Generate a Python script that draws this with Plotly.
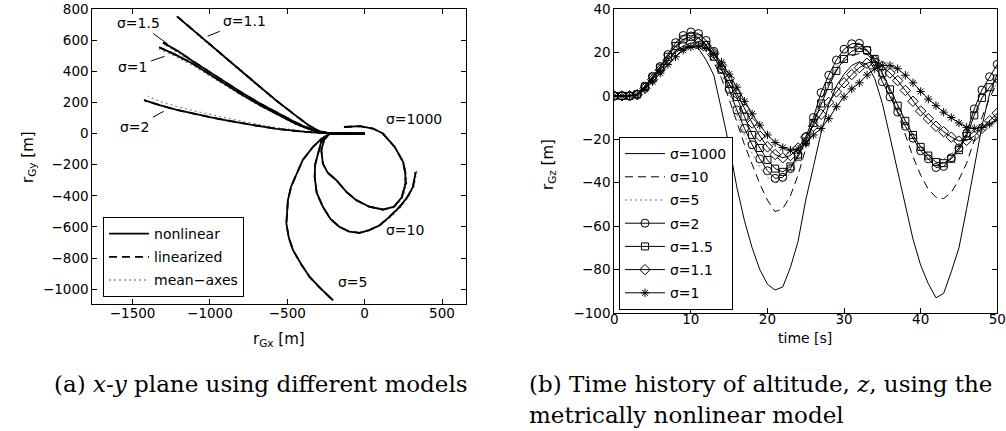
import plotly.graph_objects as go

# ---------------- Left panel: x-y trajectories [m] ----------------
# nonlinear model
s1000_x = [0, -120, -226, -262, -280, -270, -240, -183, -118, -54, 30, 118, 190, 240, 265, 262, 248, 194, 118, 54, -32, -134]
s1000_y = [0, 0, 0, -40, -107, -193, -250, -300, -375, -428, -470, -488, -470, -410, -320, -250, -182, -86, 0, 32, 47, 42]
s10_x = [0, -120, -226, -280, -302, -320, -323, -310, -270, -220, -162, -100, -32, 30, 97, 160, 226, 275, 312, 330]
s10_y = [0, 0, 0, -50, -128, -200, -279, -380, -471, -550, -600, -630, -638, -620, -589, -535, -471, -410, -343, -247]
s5_x = [0, -120, -226, -280, -334, -400, -441, -475, -496, -506, -490, -463, -410, -356, -280, -205]
s5_y = [0, 0, 0, -35, -86, -170, -257, -340, -428, -578, -670, -749, -840, -921, -1000, -1071]
s2_x = [0, -120, -226, -291, -380, -463, -570, -679, -790, -894, -1000, -1110, -1220, -1325, -1426]
s2_y = [0, 0, 0, 4, 10, 17, 30, 47, 65, 85, 105, 128, 153, 182, 214]
s15_x = [0, -120, -226, -300, -400, -463, -560, -679, -790, -894, -1000, -1110, -1200, -1303]
s15_y = [0, 0, 1, 12, 50, 80, 130, 195, 260, 325, 395, 465, 525, 584]
s11_x = [0, -120, -226, -291, -360, -420, -500, -571, -680, -787, -900, -1002, -1110, -1213]
s11_y = [0, 0, 2, 14, 52, 96, 158, 212, 303, 394, 488, 578, 667, 753]
s1_x = [0, -120, -226, -300, -400, -463, -560, -679, -790, -894, -1000, -1110, -1220, -1328]
s1_y = [0, 0, 1, 9, 44, 72, 121, 184, 248, 312, 378, 448, 505, 554]

# mean-axes model
m1000_x = [0, -120, -226, -262, -280, -270, -240, -183, -118, -54, 30, 120, 194, 246, 272, 268, 252, 196, 118, 54, -32, -134]
m1000_y = [0, 0, 0, -40, -107, -193, -250, -300, -375, -428, -472, -492, -474, -412, -320, -248, -180, -84, 2, 33, 48, 43]
m10_x = [0, -120, -226, -280, -302, -320, -323, -310, -270, -220, -162, -100, -32, 32, 100, 165, 232, 282, 320, 338]
m10_y = [0, 0, 0, -50, -128, -200, -279, -380, -471, -550, -600, -630, -638, -622, -592, -540, -474, -410, -340, -232]
m5_x = [0, -120, -226, -280, -334, -400, -441, -475, -496, -506, -490, -462, -406, -350, -275, -192]
m5_y = [0, 0, 0, -35, -86, -170, -257, -340, -428, -578, -672, -752, -844, -925, -1005, -1080]
m2_x = [0, -120, -226, -291, -380, -463, -570, -679, -790, -894, -1000, -1110, -1220, -1325, -1400]
m2_y = [0, 0, 0, 6, 14, 23, 38, 57, 78, 100, 122, 147, 175, 207, 240]
m15_x = [0, -120, -226, -300, -400, -463, -560, -679, -790, -894, -1000, -1110, -1200, -1300]
m15_y = [0, 0, 1, 11, 48, 77, 126, 190, 254, 318, 387, 456, 515, 576]
m11_x = [0, -120, -226, -291, -360, -420, -500, -571, -680, -787, -900, -1002, -1110, -1205]
m11_y = [0, 0, 2, 13, 50, 93, 154, 207, 297, 387, 480, 570, 660, 745]
m1_x = [0, -120, -226, -300, -400, -463, -560, -679, -790, -894, -1000, -1110, -1220, -1330]
m1_y = [0, 0, 1, 8, 41, 68, 116, 178, 240, 303, 368, 437, 494, 544]

# ---------------- Right panel: altitude vs time ----------------
t = list(range(0, 51))
z1000 = [0, 0, 0, 0.5, 3.5, 8, 12.5, 16.5, 20, 22, 22.5,
         21.8, 16.5, 9.5, -6.5, -23, -42, -57.5, -70, -80, -86.8,
         -89.4, -88, -79, -67, -48, -32.6, -17, -4, 4.5, 10,
         14, 15.7, 14.5, 8, -3.5, -19, -35, -51, -66, -78,
         -86.5, -93, -91, -81, -70, -52, -33, -14, 1, 10]
z10 = [0, 0, 0, 0.6, 4, 8.5, 13, 17.5, 21, 22.5, 23,
       22.5, 20, 15.5, 8, -1.5, -12, -22.5, -31.5, -40.5, -48,
       -53.3, -52, -46, -36.5, -24, -12, -2, 6, 12, 16,
       18.5, 19.5, 19.1, 16, 10.1, 1.8, -7.8, -18.1, -28, -36.5,
       -43, -46.7, -47.3, -44.5, -38.5, -31, -20, -10, -1, 6]
z5 = [0, 0, 0, 0.7, 4.2, 8.8, 13.3, 18.5, 23, 25.5, 26.3,
      25.8, 22.5, 17.5, 10.5, 1.5, -8.5, -18, -26.5, -33, -37.5,
      -40, -39.5, -35.5, -28.5, -20, -10.5, -1.5, 6.5, 13, 17.5,
      20.5, 21.5, 20.5, 16, 9.5, 2.5, -5, -12, -18.5, -23.5,
      -27, -29, -29, -27, -22.5, -15.5, -7.5, -1, 3, 5]
z2 = [0, 0, 0, 0.8, 4.5, 9, 13.5, 19, 24.5, 27.8, 29.4,
      28.7, 25.5, 20.5, 12.5, 3, -6.5, -15, -22.5, -29, -34.5,
      -38, -37.5, -33.5, -27, -19, -10, 1.5, 9.5, 16.5, 21.5,
      24, 24.2, 21, 15.5, 6.5, -0.5, -7.5, -14, -19.5, -25.3,
      -29, -33, -32.5, -28.5, -24, -17.3, -6, 2.7, 8.8, 14.5]
z15 = [0, 0, 0, 0.7, 4, 8.5, 13, 18, 23, 26, 27.2,
       26.5, 23.5, 18, 12, 5.5, -0.5, -9.5, -18, -24, -29.5,
       -33.5, -35, -32.5, -28, -21, -12.5, -3.5, 4.5, 11.5, 17,
       20.5, 22, 21, 17, 10.5, 3, -4.5, -11.5, -18, -23.5,
       -27.5, -30.5, -31, -29, -25, -18.5, -9, -1, 4, 8]
z11 = [0, 0, 0, 0.5, 3.5, 7.5, 12, 16.5, 20.5, 23, 24.3,
       24.5, 23, 19.5, 14, 8, 1, -6, -12.5, -18.5, -23.5,
       -27, -28.5, -27.5, -24, -19, -14, -8.5, -3, 1.8, 6,
       9.8, 13, 15, 16.3, 13.7, 10.5, 7, 2.5, -2.5, -7,
       -10.5, -14, -16.5, -19, -20.8, -20.5, -18.5, -15, -11.5, -8]
z1 = [0, 0, 0, 0.4, 3, 6.5, 10.5, 14.5, 18, 21, 22.5,
      23, 22, 19.5, 15.5, 10, 4, -2.5, -8.3, -13.5, -18,
      -21.5, -23.8, -25, -24.5, -22, -18, -15, -10.5, -5, -0.5,
      3.2, 6, 9.6, 12.5, 14, 14, 12.5, 9.5, 6, 2,
      -1.5, -4.5, -7.5, -10, -12.5, -14.5, -15, -14.6, -13, -11]

SANS = "DejaVu Sans"
SERIF = "DejaVu Serif"
DASH = "8px,5px"
DOT = "2px,3px"

fig = go.Figure()

nl = [(s1000_x, s1000_y), (s10_x, s10_y), (s5_x, s5_y), (s2_x, s2_y),
      (s15_x, s15_y), (s11_x, s11_y), (s1_x, s1_y)]
ma = [(m1000_x, m1000_y), (m10_x, m10_y), (m5_x, m5_y), (m2_x, m2_y),
      (m15_x, m15_y), (m11_x, m11_y), (m1_x, m1_y)]

# mean-axes (dotted, grey) underneath
for i, (xx, yy) in enumerate(ma):
    fig.add_trace(go.Scatter(x=xx, y=yy, mode="lines", name="mean\u2212axes",
                             line=dict(color="#8a8a8a", width=1.3, dash=DOT),
                             showlegend=(i == 0), legend="legend", legendrank=3,
                             legendgroup="ma",
                             xaxis="x", yaxis="y", hoverinfo="skip"))
# linearized (dashed)
for i, (xx, yy) in enumerate(nl):
    fig.add_trace(go.Scatter(x=xx, y=yy, mode="lines", name="linearized",
                             line=dict(color="black", width=1.8, dash=DASH),
                             showlegend=(i == 0), legend="legend", legendrank=2,
                             legendgroup="lin",
                             xaxis="x", yaxis="y", hoverinfo="skip"))
# nonlinear (solid) on top
for i, (xx, yy) in enumerate(nl):
    fig.add_trace(go.Scatter(x=xx, y=yy, mode="lines", name="nonlinear",
                             line=dict(color="black", width=1.8),
                             showlegend=(i == 0), legend="legend", legendrank=1,
                             legendgroup="nl",
                             xaxis="x", yaxis="y", hoverinfo="skip"))

# right panel
rs = [
    ("σ=1000", z1000, dict(color="black", width=1), "lines", None),
    ("σ=10", z10, dict(color="black", width=1, dash=DASH), "lines", None),
    ("σ=5", z5, dict(color="#777777", width=1, dash=DOT), "lines", None),
    ("σ=2", z2, dict(color="black", width=1), "lines+markers", dict(symbol="circle-open", size=8)),
    ("σ=1.5", z15, dict(color="black", width=1), "lines+markers", dict(symbol="square-open", size=7)),
    ("σ=1.1", z11, dict(color="black", width=1), "lines+markers", dict(symbol="diamond-open", size=8)),
    ("σ=1", z1, dict(color="black", width=1), "lines+markers", dict(symbol="asterisk-open", size=7)),
]
for k, (name, zz, ln, mode, mk) in enumerate(rs):
    kw = {}
    if mk is not None:
        kw["marker"] = dict(symbol=mk["symbol"], size=mk["size"], color="black",
                            line=dict(color="black", width=1))
    fig.add_trace(go.Scatter(x=t, y=zz, mode=mode, name=name, line=ln,
                             legend="legend2", legendrank=10 + k, legendgroup="r%d" % k,
                             xaxis="x2", yaxis="y2", hoverinfo="skip", **kw))

ax_common = dict(showgrid=False, zeroline=False, showline=True, linecolor="black",
                 linewidth=1, mirror="ticks", ticks="inside", ticklen=5,
                 tickcolor="black", tickfont=dict(family=SANS, size=13.5, color="black"))

fig.update_layout(
    width=1006, height=431, autosize=False,
    margin=dict(l=0, r=0, t=0, b=0, autoexpand=False),
    paper_bgcolor="white", plot_bgcolor="white",
    xaxis=dict(domain=[0.0918, 0.4632], range=[-1760, 655], ticklabelstandoff=-3,
               tickvals=[-1500, -1000, -500, 0, 500], anchor="y", **ax_common),
    yaxis=dict(domain=[0.2947, 0.9791], range=[-1095, 800],
               tickvals=[-1000, -800, -600, -400, -200, 0, 200, 400, 600, 800],
               anchor="x", **ax_common),
    xaxis2=dict(domain=[0.6106, 0.9913], range=[0, 50], ticklabelstandoff=-6,
                tickvals=[0, 10, 20, 30, 40, 50], anchor="y2", **ax_common),
    yaxis2=dict(domain=[0.2738, 0.9791], range=[-100, 40],
                tickvals=[-100, -80, -60, -40, -20, 0, 20, 40], anchor="x2", **ax_common),
    legend=dict(x=0.1024, y=1 - 217 / 431, xanchor="left", yanchor="top",
                bgcolor="white", bordercolor="black", borderwidth=1,
                font=dict(family=SANS, size=14, color="black"),
                itemwidth=40, traceorder="grouped", tracegroupgap=2),
    legend2=dict(x=0.6153, y=1 - 137 / 431, xanchor="left", yanchor="top",
                 bgcolor="white", bordercolor="black", borderwidth=1,
                 font=dict(family=SANS, size=14, color="black"),
                 itemwidth=40, traceorder="grouped", tracegroupgap=2),
    showlegend=True,
)

ann_font = dict(family=SANS, size=14, color="black")
annotations = [
    # pointer labels in the x-y panel
    dict(x=-1273, y=575, ax=-29, ay=-21, text="σ=1.5"),
    dict(x=-1015, y=625, ax=37, ay=-15, text="σ=1.1"),
    dict(x=-1293, y=496, ax=-32, ay=11, text="σ=1"),
    dict(x=-1299, y=143, ax=-29, ay=16, text="σ=2"),
]
for a in annotations:
    fig.add_annotation(xref="x", yref="y", showarrow=True, arrowhead=0,
                       arrowwidth=1, arrowcolor="black", startstandoff=2,
                       font=ann_font, **a)
for (xx, yy, txt) in [(317, 92, "σ=1000"), (259, -622, "σ=10"), (-78, -955, "σ=5")]:
    fig.add_annotation(xref="x", yref="y", x=xx, y=yy, text=txt, showarrow=False,
                       xanchor="center", yanchor="middle", font=ann_font)

lab_font = dict(family=SANS, size=15, color="black")
# axis titles (centred)
fig.add_annotation(xref="paper", yref="paper", x=28 / 1006, y=1 - 157 / 431,
                   text="r<sub>Gy</sub> [m]", textangle=-90, showarrow=False,
                   xanchor="center", yanchor="middle", font=lab_font)
fig.add_annotation(xref="paper", yref="paper", x=548 / 1006, y=1 - 165 / 431,
                   text="r<sub>Gz</sub> [m]", textangle=-90, showarrow=False,
                   xanchor="center", yanchor="middle", font=lab_font)
fig.add_annotation(xref="paper", yref="paper", x=279 / 1006, y=1 - 339 / 431,
                   text="r<sub>Gx</sub> [m]", showarrow=False,
                   xanchor="center", yanchor="middle", font=lab_font)
fig.add_annotation(xref="paper", yref="paper", x=805 / 1006, y=1 - 338 / 431,
                   text="time [s]", showarrow=False,
                   xanchor="center", yanchor="middle", font=dict(family=SANS, size=14, color="black"))

# captions
cap_font = dict(family=SERIF, size=23, color="black")
fig.add_annotation(xref="paper", yref="paper", x=52 / 1006, y=1 - 384 / 431, xanchor="left",
                   yanchor="middle", showarrow=False, font=cap_font,
                   text="(a) <i>x</i>-<i>y</i> plane using different models")
fig.add_annotation(xref="paper", yref="paper", x=527 / 1006, y=1 - 384 / 431, xanchor="left",
                   yanchor="middle", showarrow=False, font=cap_font,
                   text="(b) Time history of altitude, <i>z</i>, using the")
fig.add_annotation(xref="paper", yref="paper", x=527 / 1006, y=1 - 415 / 431, xanchor="left",
                   yanchor="middle", showarrow=False, font=cap_font,
                   text="metrically nonlinear model")

fig.write_html("out.html", config={"displayModeBar": False},
               post_script="document.body.style.margin='0px';document.body.style.padding='0px';")
